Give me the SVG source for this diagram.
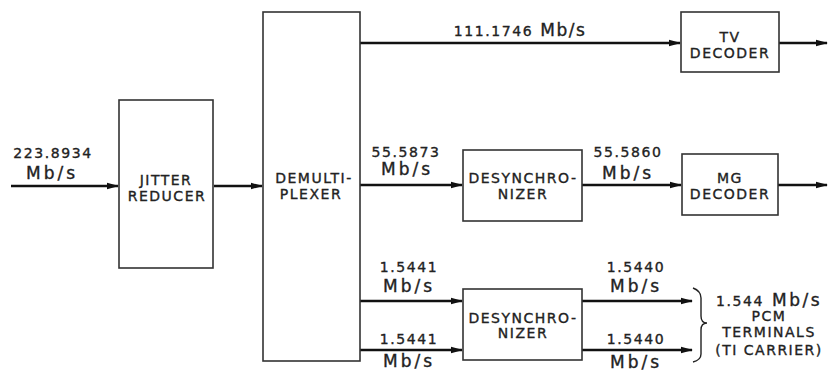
<svg xmlns="http://www.w3.org/2000/svg" width="832" height="372" viewBox="0 0 832 372">
<style>
.box{fill:#fff;stroke:#333;stroke-width:1.6}
.wire{fill:none;stroke:#111;stroke-width:2.6}
.thin{fill:none;stroke:#222;stroke-width:1.4}
text{stroke:#222;stroke-width:0.35;fill:#222;text-anchor:middle;font-family:"DejaVu Sans",sans-serif}
.bt{font-size:14px;letter-spacing:1.5px}
.lb{font-size:14px;letter-spacing:1.6px}
.lg{font-size:17px;letter-spacing:3px}
</style>
<defs>
<marker id="ah" markerWidth="12" markerHeight="8" refX="11" refY="4" orient="auto" markerUnits="userSpaceOnUse">
<path d="M0,0.8 L12,4 L0,7.2 Z" fill="#111"/>
</marker>
</defs>
<rect width="832" height="372" fill="#fff"/>
<g id="connectors">
<line class="wire" x1="11" y1="186" x2="118" y2="186" marker-end="url(#ah)"/>
<line class="wire" x1="214" y1="186" x2="262" y2="186" marker-end="url(#ah)"/>
<line class="wire" x1="360" y1="43" x2="680" y2="43" marker-end="url(#ah)"/>
<line class="wire" x1="779" y1="43" x2="827" y2="43" marker-end="url(#ah)"/>
<line class="wire" x1="360" y1="185" x2="462" y2="185" marker-end="url(#ah)"/>
<line class="wire" x1="582" y1="185" x2="681" y2="185" marker-end="url(#ah)"/>
<line class="wire" x1="778" y1="185" x2="827" y2="185" marker-end="url(#ah)"/>
<line class="wire" x1="360" y1="301" x2="462" y2="301" marker-end="url(#ah)"/>
<line class="wire" x1="360" y1="350" x2="462" y2="350" marker-end="url(#ah)"/>
<line class="wire" x1="582" y1="301" x2="692" y2="301" marker-end="url(#ah)"/>
<line class="wire" x1="582" y1="350" x2="692" y2="350" marker-end="url(#ah)"/>
<path class="thin" d="M693,288 Q701,291 701,298 L701,316 Q701,323 707,323 Q701,323 701,330 L701,354 Q701,360 693,362"/>
</g>
<g id="jitter">
<rect class="box" x="119" y="100" width="94" height="168"/>
<text class="bt" x="166" y="185">JITTER</text>
<text class="bt" x="167" y="201">REDUCER</text>
</g>
<g id="demux">
<rect class="box" x="263" y="12" width="97" height="349"/>
<text class="bt" x="314" y="183">DEMULTI-</text>
<text class="bt" x="311" y="199">PLEXER</text>
</g>
<g id="tv">
<rect class="box" x="681" y="12" width="98" height="60"/>
<text class="bt" x="730" y="42">TV</text>
<text class="bt" x="730" y="58">DECODER</text>
</g>
<g id="desync1">
<rect class="box" x="463" y="150" width="119" height="71"/>
<text class="bt" x="523" y="183">DESYNCHRO-</text>
<text class="bt" x="523" y="199">NIZER</text>
</g>
<g id="mg">
<rect class="box" x="682" y="154" width="96" height="61"/>
<text class="bt" x="730" y="183">MG</text>
<text class="bt" x="730" y="199">DECODER</text>
</g>
<g id="desync2">
<rect class="box" x="463" y="289" width="119" height="71"/>
<text class="bt" x="523" y="323">DESYNCHRO-</text>
<text class="bt" x="523" y="338">NIZER</text>
</g>
<g id="labels">
<text class="lb" x="53" y="158">223.8934</text>
<text class="lg" x="52" y="179">Mb/s</text>
<text class="lb" x="520" y="36"><tspan>111.1746</tspan><tspan font-size="17" letter-spacing="1.5"> Mb/s</tspan></text>
<text class="lb" x="406" y="157">55.5873</text>
<text class="lg" x="407" y="175">Mb/s</text>
<text class="lb" x="628" y="157">55.5860</text>
<text class="lg" x="628" y="179">Mb/s</text>
<text class="lb" x="409" y="272">1.5441</text>
<text class="lg" x="409" y="292">Mb/s</text>
<text class="lb" x="409" y="344">1.5441</text>
<text class="lg" x="409" y="367">Mb/s</text>
<text class="lb" x="636" y="272">1.5440</text>
<text class="lg" x="636" y="292">Mb/s</text>
<text class="lb" x="636" y="344">1.5440</text>
<text class="lg" x="636" y="368">Mb/s</text>
<text class="lb" x="769" y="306" letter-spacing="2.5"><tspan>1.544</tspan><tspan font-size="17" letter-spacing="2.5"> Mb/s</tspan></text>
<text class="bt" x="769" y="321">PCM</text>
<text class="bt" x="769" y="337">TERMINALS</text>
<text class="bt" x="769" y="355" letter-spacing="2">(TI CARRIER)</text>
</g>
</svg>
